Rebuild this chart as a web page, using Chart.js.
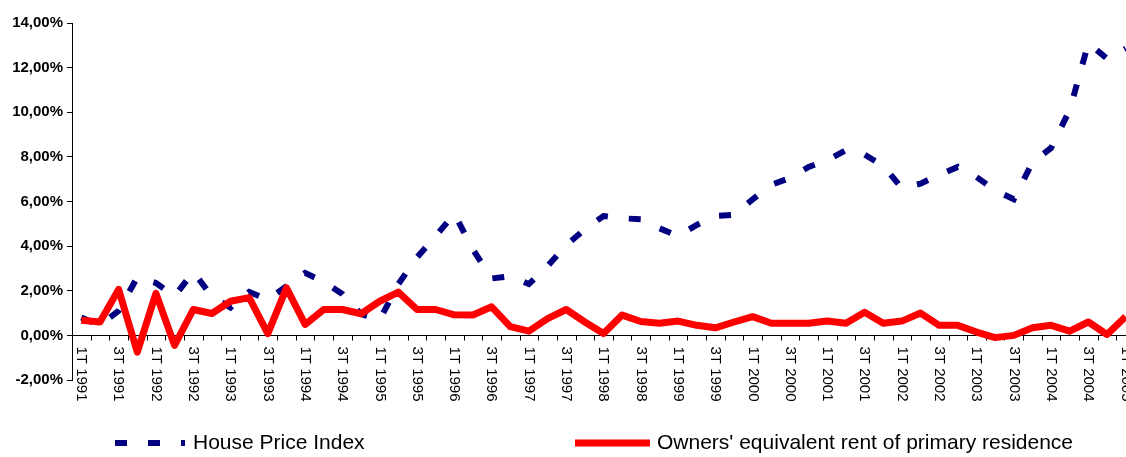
<!DOCTYPE html>
<html>
<head>
<meta charset="utf-8">
<script src="https://cdn.jsdelivr.net/npm/chart.js@4.4.1/dist/chart.umd.min.js"></script>
<style>
  html, body { margin: 0; padding: 0; background: #fff; overflow: hidden; }
  #janela { width: 1126px; height: 457px; overflow: hidden; position: relative; }
  #area { width: 1135px; height: 457px; position: relative; }
</style>
</head>
<body>
<div id="janela"><div id="area"><canvas id="grafico"></canvas></div></div>
<script>
const categorias = [
  '1T 1991','2T 1991','3T 1991','4T 1991','1T 1992','2T 1992','3T 1992','4T 1992',
  '1T 1993','2T 1993','3T 1993','4T 1993','1T 1994','2T 1994','3T 1994','4T 1994',
  '1T 1995','2T 1995','3T 1995','4T 1995','1T 1996','2T 1996','3T 1996','4T 1996',
  '1T 1997','2T 1997','3T 1997','4T 1997','1T 1998','2T 1998','3T 1998','4T 1998',
  '1T 1999','2T 1999','3T 1999','4T 1999','1T 2000','2T 2000','3T 2000','4T 2000',
  '1T 2001','2T 2001','3T 2001','4T 2001','1T 2002','2T 2002','3T 2002','4T 2002',
  '1T 2003','2T 2003','3T 2003','4T 2003','1T 2004','2T 2004','3T 2004','4T 2004',
  '1T 2005'
];

// variação trimestral (%)
const housePriceIndex = [
  0.80, 0.45, 1.10, 2.60, 2.35, 1.75, 2.85, 1.75, 1.25, 1.95,
  1.60, 2.20, 2.80, 2.40, 1.85, 0.95, 0.70, 2.30, 3.50, 4.45,
  5.45, 3.85, 2.55, 2.65, 2.30, 3.10, 4.05, 4.75, 5.35, 5.25,
  5.20, 4.80, 4.45, 4.95, 5.35, 5.40, 6.10, 6.75, 7.05, 7.55,
  7.85, 8.30, 8.10, 7.60, 6.60, 6.80, 7.20, 7.55, 7.10, 6.50,
  6.10, 7.75, 8.40, 10.10, 13.10, 12.40, 12.85
];

const ownersRent = [
  0.68, 0.60, 2.06, -0.75, 1.88, -0.45, 1.16, 0.98, 1.53, 1.69,
  0.08, 2.13, 0.49, 1.16, 1.16, 0.97, 1.53, 1.94, 1.16, 1.16,
  0.92, 0.91, 1.28, 0.39, 0.19, 0.75, 1.16, 0.60, 0.08, 0.91,
  0.62, 0.54, 0.64, 0.45, 0.34, 0.60, 0.84, 0.54, 0.54, 0.54,
  0.64, 0.54, 1.04, 0.54, 0.64, 1.00, 0.45, 0.45, 0.15, -0.10,
  0.00, 0.34, 0.45, 0.19, 0.60, 0.04, 0.84
];

const nomesSeries = ['House Price Index', "Owners' equivalent rent of primary residence"];
const rotulosVisiveis = ['1T', '3T'];

const FONTE = '"Liberation Sans", Arial, sans-serif';

/* ── Eixo X cruzando em 0, rótulos girados ── */
const eixoX = {
  id: 'eixoX',
  beforeDatasetsDraw(chart) {
    const { ctx, chartArea: { left, right }, scales: { x, y } } = chart;
    const y0 = Math.round(y.getPixelForValue(0)) + 0.5;
    const passo = x.getPixelForValue(1) - x.getPixelForValue(0);
    const inicio = x.getPixelForValue(0) - passo / 2;
    ctx.save();
    ctx.strokeStyle = '#000';
    ctx.lineWidth = 1;
    ctx.beginPath();
    ctx.moveTo(left, y0);
    ctx.lineTo(right, y0);
    for (let k = 0; k <= categorias.length; k++) {
      const px = Math.round(inicio + k * passo) + 0.5;
      ctx.moveTo(px, y0);
      ctx.lineTo(px, y0 + 5);
    }
    ctx.stroke();

    ctx.fillStyle = '#000';
    ctx.font = '15px ' + FONTE;
    ctx.textAlign = 'left';
    ctx.textBaseline = 'middle';
    categorias.forEach((c, i) => {
      if (!rotulosVisiveis.includes(c.slice(0, 2))) return;
      ctx.save();
      ctx.translate(x.getPixelForValue(i), y0 + 11);
      ctx.rotate(Math.PI / 2);
      ctx.fillText(c, 0, 0);
      ctx.restore();
    });
    ctx.restore();
  }
};

/* ── Legenda embaixo ── */
const legenda = {
  id: 'legenda',
  afterDraw(chart) {
    const { ctx } = chart;
    const yL = 443;
    const posicoes = [[115, 185, 193], [575, 650, 657]];
    ctx.save();
    chart.data.datasets.forEach((ds, i) => {
      const [x1, x2, xt] = posicoes[i];
      ctx.strokeStyle = ds.borderColor;
      ctx.lineWidth = ds.borderWidth;
      ctx.lineCap = 'butt';
      ctx.setLineDash(ds.borderDash || []);
      ctx.beginPath();
      ctx.moveTo(x1, yL);
      ctx.lineTo(x2, yL);
      ctx.stroke();
      ctx.setLineDash([]);
      ctx.fillStyle = '#000';
      ctx.font = '21px ' + FONTE;
      ctx.textAlign = 'left';
      ctx.textBaseline = 'middle';
      ctx.fillText(ds.label, xt, yL);
    });
    ctx.restore();
  }
};

new Chart(document.getElementById('grafico'), {
  type: 'line',
  data: {
    labels: categorias,
    datasets: [
      {
        label: nomesSeries[0],
        data: housePriceIndex,
        borderColor: '#000080',
        borderWidth: 6,
        borderDash: [12, 21],
        borderCapStyle: 'butt',
        pointRadius: 0,
        tension: 0,
        order: 1
      },
      {
        label: nomesSeries[1],
        data: ownersRent,
        borderColor: '#ff0000',
        borderWidth: 7,
        borderJoinStyle: 'round',
        pointRadius: 0,
        tension: 0,
        order: 0
      }
    ]
  },
  options: {
    responsive: true,
    maintainAspectRatio: false,
    animation: false,
    layout: { padding: { top: 23, bottom: 77, left: 0, right: 0 } },
    plugins: {
      legend: { display: false },
      tooltip: { enabled: false }
    },
    scales: {
      x: {
        type: 'category',
        offset: true,
        display: false
      },
      y: {
        min: -2,
        max: 14,
        ticks: {
          stepSize: 2,
          color: '#000',
          padding: 4,
          font: { family: FONTE, size: 15, weight: 'bold' },
          callback: v => v.toFixed(2).replace('.', ',') + '%'
        },
        grid: { drawOnChartArea: false, tickLength: 5, color: '#000' },
        border: { color: '#000', width: 1 },
        afterFit: scale => { scale.width = 72; }
      }
    }
  },
  plugins: [eixoX, legenda]
});
</script>
</body>
</html>
